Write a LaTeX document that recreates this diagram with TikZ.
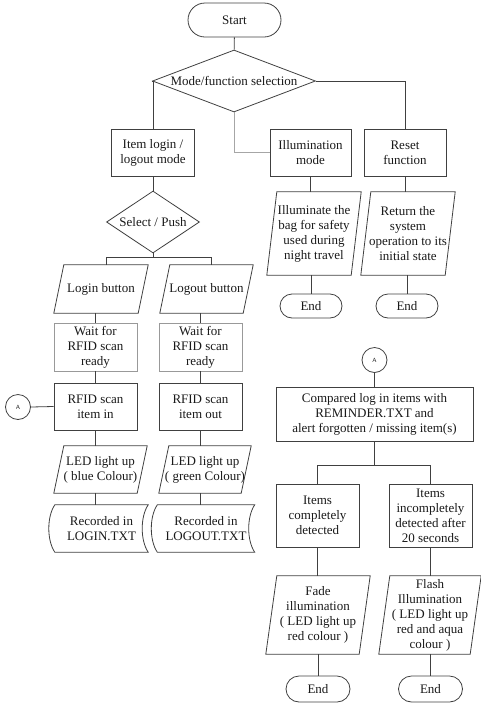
\documentclass[tikz,border=0pt]{standalone}
\usepackage{fontspec}
\setmainfont{Liberation Serif}
\usetikzlibrary{shapes.geometric,shapes.misc,calc}
\newcommand\parashape[2]{%
  \draw[line] (#1.south west) -- ($(#1.north west)+(#2,0)$) -- (#1.north east) -- ($(#1.south east)-(#2,0)$) -- cycle;
  \coordinate (#1-top) at ($(#1.north)+(#2/2,0)$);
  \coordinate (#1-bot) at ($(#1.south)-(#2/2,0)$);}
\newcommand\storedshape[2]{%
  \draw[line] (#1.north west) .. controls ($(#1.north west)!0.25!(#1.south west)+(-#2,0)$) and ($(#1.north west)!0.75!(#1.south west)+(-#2,0)$) .. (#1.south west)
    -- (#1.south east) .. controls ($(#1.south east)!0.25!(#1.north east)+(-#2,0)$) and ($(#1.south east)!0.75!(#1.north east)+(-#2,0)$) .. (#1.north east) -- cycle;}
\begin{document}
\begin{tikzpicture}[x=1pt,y=-1pt,
  every node/.style={font=\fontsize{13}{15}\selectfont, align=center, text=black!90, inner sep=1pt},
  line/.style={draw=black!75, line width=0.8pt},
  glines/.style={draw=black!35, line width=0.8pt},
  proc/.style={rectangle, draw=black!75, line width=0.8pt},
  waitbox/.style={rectangle, draw=black!40, line width=0.8pt},
  plain/.style={rectangle},
  term/.style={rounded rectangle, draw=black!75, line width=0.8pt},
  decide/.style={diamond, draw=black!75, line width=0.8pt, inner sep=0pt},
  conn/.style={circle, draw=black!75, line width=0.8pt, minimum size=25pt, inner sep=0pt, font=\sffamily\fontsize{6}{7}\selectfont}
]
\useasboundingbox (0,0) rectangle (481,705);

% top
\node[term, minimum width=95pt, minimum height=34pt] (start) at (234.5,20) {Start};
\node[decide, minimum width=163pt, minimum height=62pt, aspect=2.6] (mode) at (234,81) {Mode/function selection};
\node[proc, minimum width=83pt, minimum height=47pt] (login) at (153,152.5) {Item login /\\logout mode};
\node[proc, minimum width=81pt, minimum height=47pt] (illum) at (310.5,152.5) {Illumination\\mode};
\node[proc, minimum width=82pt, minimum height=47pt] (reset) at (405,152.5) {Reset\\function};

\draw[line] (start) -- (mode);
\draw[line] (mode.west) -| (login.north);
\draw[line] (mode.east) -| (reset.north);
\draw[glines] (mode.south) |- (illum.west);

% illumination / reset branch
\node[plain, minimum width=94pt, minimum height=83pt] (ipara) at (314,233.5) {Illuminate the\\bag for safety\\used during\\night travel};
\parashape{ipara}{10}
\node[plain, minimum width=94pt, minimum height=83pt] (rpara) at (408,233.5) {Return the\\system\\operation to its\\initial state};
\parashape{rpara}{10}
\node[term, minimum width=64pt, minimum height=24pt] (end1) at (311,306) {End};
\node[term, minimum width=64pt, minimum height=24pt] (end2) at (407,306) {End};
\draw[line] (illum.south) -- (illum.south |- ipara.north);
\draw[line] (reset.south) -- (reset.south |- rpara.north);
\draw[line] (end1.north |- ipara.south) -- (end1.north);
\draw[line] (end2.north |- rpara.south) -- (end2.north);

% login / logout column
\node[decide, minimum width=93pt, minimum height=62pt, aspect=1.5] (sel) at (153,222) {Select / Push};
\draw[line] (login.south) -- (sel.north);
\node[plain, minimum width=94pt, minimum height=48pt] (lbtn) at (101,289) {Login button};
\parashape{lbtn}{10}
\node[plain, minimum width=93pt, minimum height=48pt] (obtn) at (206.5,289) {Logout button};
\parashape{obtn}{10}
\coordinate (bar) at (153,257);
\draw[line] (sel.south) -- (bar);
\draw[line] (lbtn-top |- bar) -- (lbtn-top);
\draw[line] (obtn-top |- bar) -- (obtn-top);
\draw[line] (lbtn-top |- bar) -- (obtn-top |- bar);

\node[waitbox, minimum width=83pt, minimum height=48pt] (wait1) at (95.5,347) {Wait for\\RFID scan\\ready};
\node[waitbox, minimum width=83pt, minimum height=48pt] (wait2) at (200.5,347) {Wait for\\RFID scan\\ready};
\node[proc, minimum width=83pt, minimum height=47pt] (scan1) at (95.5,406.5) {RFID scan\\item in};
\node[proc, minimum width=83pt, minimum height=47pt] (scan2) at (200.5,406.5) {RFID scan\\item out};
\node[plain, minimum width=93pt, minimum height=47pt] (led1) at (100.5,469.5) {LED light up\\( blue Colour)};
\parashape{led1}{10}
\node[plain, minimum width=92pt, minimum height=47pt] (led2) at (205,469.5) {LED light up\\( green Colour)};
\parashape{led2}{10}
\node[plain, minimum width=93pt, minimum height=47pt] (rec1) at (101.5,528.5) {Recorded in\\LOGIN.TXT};
\storedshape{rec1}{8}
\node[plain, minimum width=97pt, minimum height=47pt] (rec2) at (206,528.5) {Recorded in\\LOGOUT.TXT};
\storedshape{rec2}{8}

\draw[line] (wait1.south |- lbtn.south) -- (wait1.north);
\draw[line] (wait2.south |- obtn.south) -- (wait2.north);
\draw[line] (wait1) -- (scan1);
\draw[line] (wait2) -- (scan2);
\draw[line] (scan1.south) -- (scan1.south |- led1.north);
\draw[line] (scan2.south) -- (scan2.south |- led2.north);
\draw[line] (scan1.south |- led1.south) -- (scan1.south |- rec1.north);
\draw[line] (scan2.south |- led2.south) -- (scan2.south |- rec2.north);

\node[conn] (a1) at (18,407) {A};
\draw[line] (a1.east) -- (scan1.west);

% right bottom
\node[conn] (a2) at (374.5,360) {A};
\node[proc, minimum width=197pt, minimum height=54pt] (cmp) at (374.5,414) {Compared log in items with\\REMINDER.TXT and\\alert forgotten / missing item(s)};
\draw[line] (a2) -- (cmp);
\node[proc, minimum width=83pt, minimum height=63pt] (ok) at (317.5,515.5) {Items\\completely\\detected};
\node[proc, minimum width=83pt, minimum height=63pt] (nok) at (430.5,515.5) {Items\\incompletely\\detected after\\20 seconds};
\coordinate (bar2) at (374.5,465);
\draw[line] (cmp.south) -- (bar2);
\draw[line] (ok.north |- bar2) -- (nok.north |- bar2);
\draw[line] (ok.north |- bar2) -- (ok.north);
\draw[line] (nok.north |- bar2) -- (nok.north);

\node[plain, minimum width=104pt, minimum height=78pt] (fade) at (318,615) {Fade\\illumination\\( LED light up\\red colour )};
\parashape{fade}{11}
\node[plain, minimum width=102pt, minimum height=78pt] (flash) at (430,615) {Flash\\Illumination\\( LED light up\\red and aqua\\colour )};
\parashape{flash}{11}
\node[term, minimum width=66pt, minimum height=26pt] (end3) at (318,689) {End};
\node[term, minimum width=66pt, minimum height=26pt] (end4) at (430.5,689) {End};
\draw[line] (ok.south) -- (ok.south |- fade.north);
\draw[line] (nok.south) -- (nok.south |- flash.north);
\draw[line] (end3.north |- fade.south) -- (end3.north);
\draw[line] (end4.north |- flash.south) -- (end4.north);
\end{tikzpicture}
\end{document}
